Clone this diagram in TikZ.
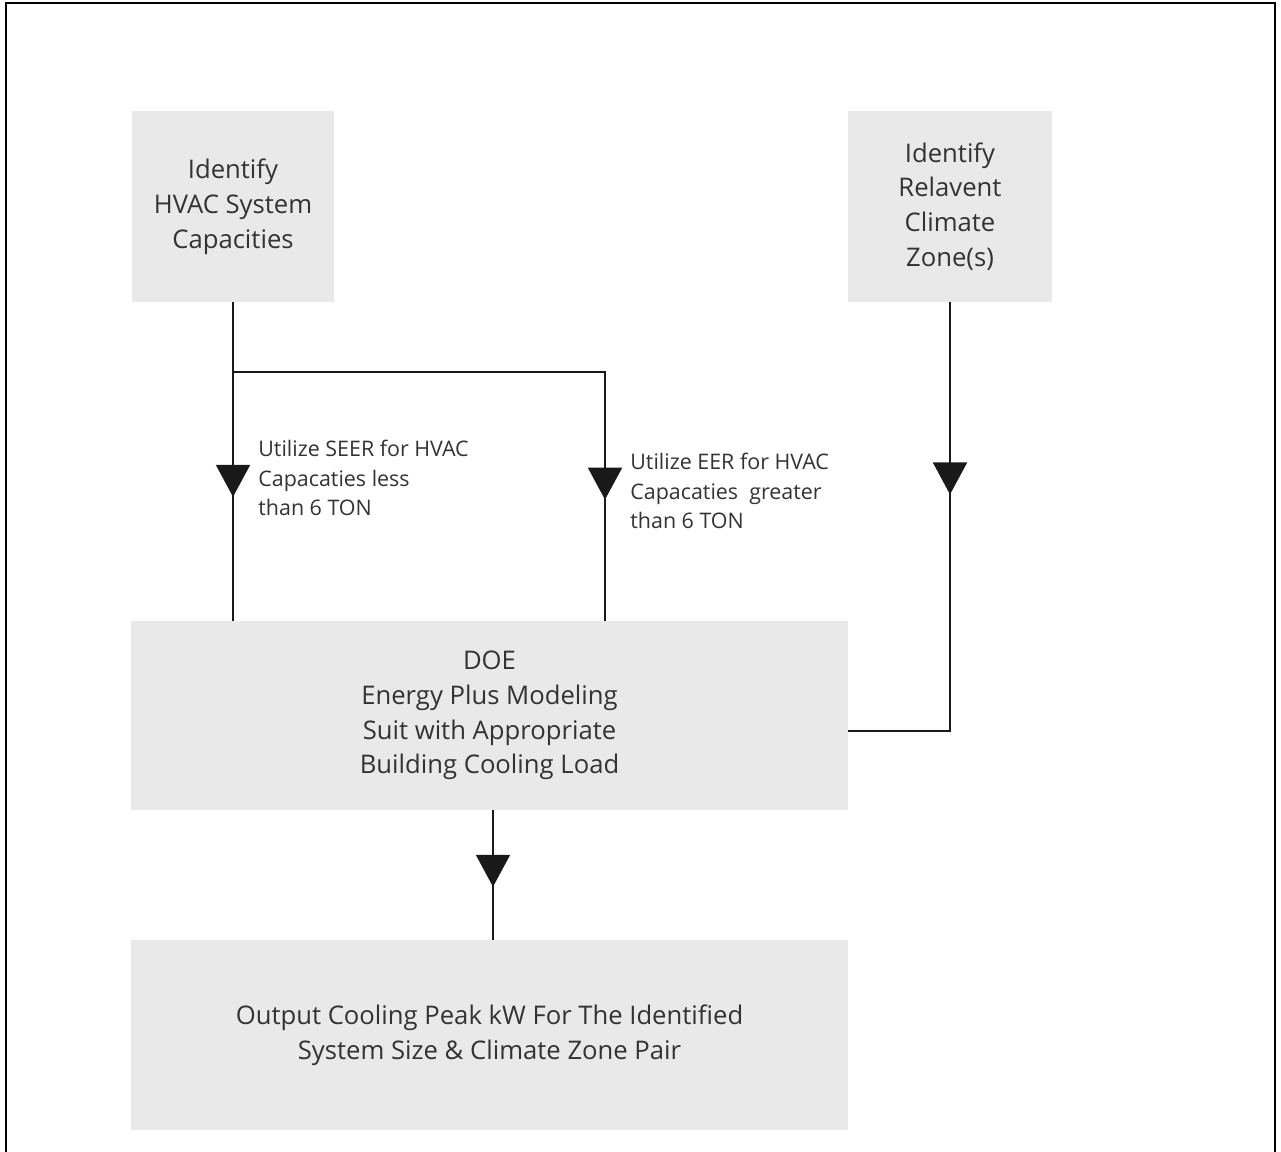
\documentclass[tikz,border=0pt]{standalone}
\usepackage{fontspec}
\setmainfont{Open Sans}
\usetikzlibrary{arrows.meta, decorations.markings}

\definecolor{boxgray}{HTML}{E9E9E9}
\definecolor{textgray}{HTML}{333333}

\tikzset{
    box/.style={fill=boxgray, text=textgray, align=center, inner sep=0pt,
        font=\fontsize{14.6}{19.8}\selectfont},
    note/.style={text=textgray, align=left, inner sep=0pt, anchor=west,
        font=\fontsize{12.2}{16.7}\selectfont},
    flow/.style={draw=black!90, line width=1.1pt},
    tri/.style={postaction={decorate}, decoration={markings,
        mark=at position #1 with {\arrow{Triangle[length=0.64cm, width=0.68cm]}}}}
}

\begin{document}
\begin{tikzpicture}[x=0.02cm, y=-0.02cm]
        \useasboundingbox (0,0) rectangle (1281,1152);
        \draw[line width=1.2pt] (6,1152) -- (6,3) -- (1275,3) -- (1275,1152);

        \node[box, minimum width=4.06cm, minimum height=3.82cm] (hvac) at (233,206.5) {Identify\\HVAC System\\Capacities};
        \node[box, minimum width=4.08cm, minimum height=3.82cm] (zone) at (950,206.5) {Identify\\Relavent\\Climate\\Zone(s)};
        \node[box, minimum width=14.34cm, minimum height=3.78cm] (doe) at (489.5,715.5) {DOE\\Energy Plus Modeling\\Suit with Appropriate\\Building Cooling Load};
        \node[box, minimum width=14.34cm, minimum height=3.80cm] (output) at (489.5,1035) {Output Cooling Peak kW For The Identified\\System Size \& Climate Zone Pair};

        \node[note] (seer) at (258,478) {Utilize SEER for HVAC\\Capacaties less\\than 6 TON};
        \node[note] (eer) at (630,491) {Utilize EER for HVAC\\Capacaties\ \ greater\\than 6 TON};

        \coordinate (split) at (233,372);
        \coordinate (bend) at (605,372);
        \coordinate (zin) at (848,731);
        \coordinate (dout) at (493,810);

        \draw[flow, tri=0.611] (hvac.south) -- (hvac.south |- doe.north);
        \draw[flow, tri=0.805] (split) -- (bend) -- (bend |- doe.north);
        \draw[flow, tri=0.362] (zone.south) |- (zin);
        \draw[flow, tri=0.592] (dout) -- (dout |- output.north);
    \end{tikzpicture}
\end{document}
